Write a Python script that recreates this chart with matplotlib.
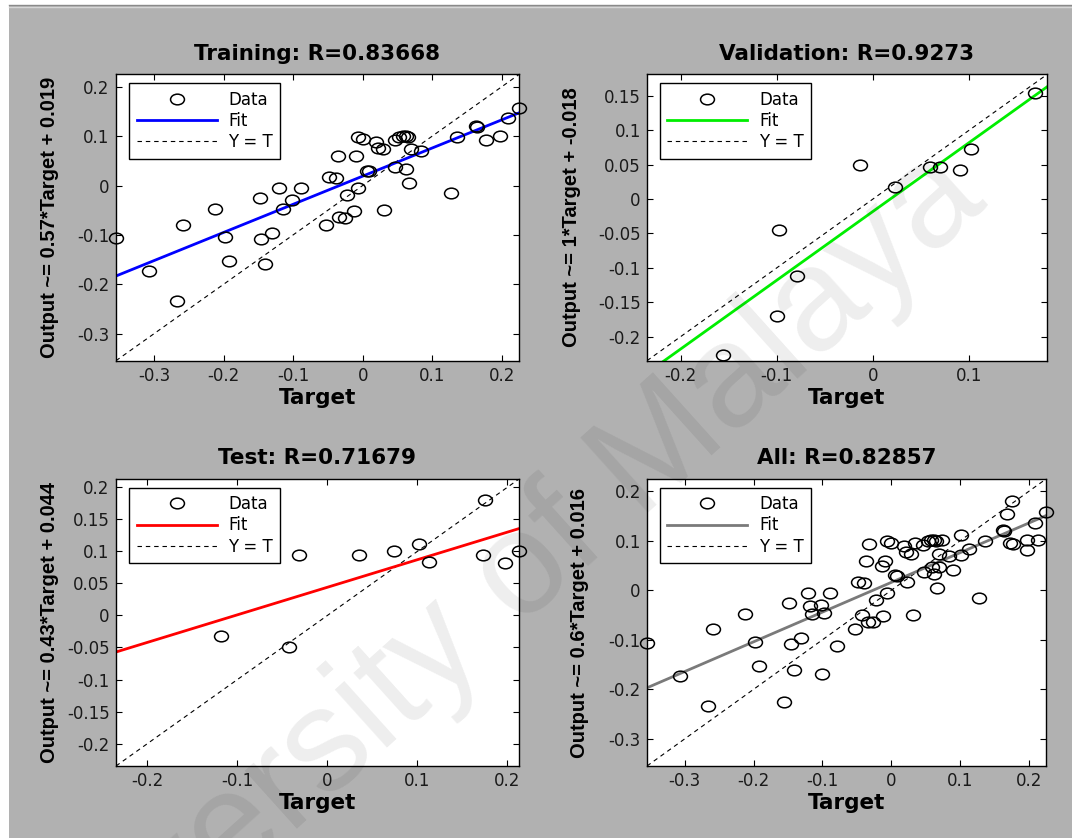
import matplotlib
matplotlib.use('Agg')
import matplotlib.pyplot as plt
from matplotlib.path import Path
from matplotlib.transforms import Affine2D
from matplotlib.patches import Rectangle
from matplotlib.lines import Line2D

# ================= data =================
train_t = [-0.355, -0.307, -0.267, -0.259, -0.213, -0.198, -0.192, -0.148, -0.146, -0.141,
           -0.131, -0.121, -0.115, -0.102, -0.089, -0.053, -0.048, -0.039, -0.036, -0.034,
           -0.026, -0.022, -0.012, -0.009, -0.006, -0.006, 0.000, 0.006, 0.009, 0.019,
           0.022, 0.029, 0.031, 0.046, 0.047, 0.053, 0.058, 0.062, 0.065, 0.062,
           0.066, 0.070, 0.084, 0.127, 0.136, 0.163, 0.164, 0.177, 0.197, 0.209, 0.225]
train_y = [-0.106, -0.173, -0.234, -0.079, -0.047, -0.104, -0.153, -0.025, -0.109, -0.160,
           -0.097, -0.005, -0.047, -0.029, -0.005, -0.079, 0.017, 0.015, 0.060, -0.064,
           -0.065, -0.020, -0.052, 0.060, -0.005, 0.099, 0.095, 0.030, 0.029, 0.089,
           0.077, 0.074, -0.049, 0.092, 0.038, 0.099, 0.101, 0.101, 0.099, 0.034,
           0.005, 0.074, 0.069, -0.015, 0.099, 0.121, 0.119, 0.093, 0.101, 0.136, 0.158]

val_t = [-0.156, -0.100, -0.098, -0.079, -0.013, 0.023, 0.059, 0.070, 0.090, 0.102, 0.168]
val_y = [-0.226, -0.170, -0.045, -0.112, 0.049, 0.017, 0.047, 0.047, 0.042, 0.072, 0.154]

test_t = [-0.118, -0.043, -0.032, 0.035, 0.074, 0.102, 0.113, 0.173, 0.175, 0.197, 0.213]
test_y = [-0.032, -0.049, 0.094, 0.095, 0.101, 0.111, 0.083, 0.095, 0.181, 0.082, 0.101]

all_t = train_t + val_t + test_t
all_y = train_y + val_y + test_y

# fit coefficients as printed in the y labels
fit_train = (0.57, 0.019)
fit_val = (1.0, -0.018)
fit_test = (0.43, 0.044)
fit_all = (0.6, 0.016)

titles = ['Training: R=0.83668', 'Validation: R=0.9273', 'Test: R=0.71679', 'All: R=0.82857']
ylabels = ['Output ~= 0.57*Target + 0.019', 'Output ~= 1*Target + -0.018',
           'Output ~= 0.43*Target + 0.044', 'Output ~= 0.6*Target + 0.016']

ticks_wide = [-0.3, -0.2, -0.1, 0, 0.1, 0.2]
labels_wide = ['-0.3', '-0.2', '-0.1', '0', '0.1', '0.2']
val_xticks = [-0.2, -0.1, 0, 0.1]
val_xlabels = ['-0.2', '-0.1', '0', '0.1']
val_yticks = [-0.2, -0.15, -0.1, -0.05, 0, 0.05, 0.1, 0.15]
val_ylabels = ['-0.2', '-0.15', '-0.1', '-0.05', '0', '0.05', '0.1', '0.15']
test_xticks = [-0.2, -0.1, 0, 0.1, 0.2]
test_xlabels = ['-0.2', '-0.1', '0', '0.1', '0.2']
test_yticks = [-0.2, -0.15, -0.1, -0.05, 0, 0.05, 0.1, 0.15, 0.2]
test_ylabels = ['-0.2', '-0.15', '-0.1', '-0.05', '0', '0.05', '0.1', '0.15', '0.2']

lim_train = (-0.355, 0.225)
lim_val = (-0.235, 0.181)
lim_test = (-0.235, 0.213)
lim_all = (-0.355, 0.225)

# ================= style =================
plt.rcParams['font.family'] = ['DejaVu Sans']
plt.rcParams['axes.unicode_minus'] = False

W, H = 1072, 838
BG = '#b1b1b1'

# slightly wide circle, like the stretched screenshot
ring = Path.unit_circle().transformed(Affine2D().scale(1.3, 1.0))


def pos(left, top, right, bottom):
    return [left / W, 1 - bottom / H, (right - left) / W, (bottom - top) / H]


def panel(ax, title, t, y, fit, lim, color, xt, xtl, yt, ytl, ylab, ylab_x):
    m, b = fit
    ax.set_facecolor('white')
    ax.plot(lim, lim, color='k', lw=0.8, ls=(0, (4, 3.5)), zorder=1)
    ax.plot(lim, [m * lim[0] + b, m * lim[1] + b], color=color, lw=2.0, zorder=2)
    ax.plot(t, y, ls='none', marker=ring, ms=10, mfc='none', mec='k', mew=1.1,
            zorder=3, clip_on=False)
    ax.set_xlim(lim)
    ax.set_ylim(lim)
    ax.set_xticks(xt)
    ax.set_xticklabels(xtl)
    ax.set_yticks(yt)
    ax.set_yticklabels(ytl)
    ax.tick_params(direction='in', length=4, width=0.8, top=True, right=True,
                   labelsize=12, labelcolor='#1a1a1a', pad=4.5)
    for s in ax.spines.values():
        s.set_linewidth(1.0)
    ax.set_title(title, fontsize=15.5, fontweight='bold', pad=10.8)
    ax.set_xlabel('Target', fontsize=15.5, fontweight='bold')
    ax.xaxis.set_label_coords(0.5, -0.094)
    ax.set_ylabel(ylab, fontsize=14.5, fontweight='bold',
                  family=['Liberation Sans', 'DejaVu Sans'])
    ax.yaxis.set_label_coords(ylab_x, 0.5)

    handles = [Line2D([], [], ls='none', marker=ring, ms=10, mfc='none', mec='k', mew=1.1),
               Line2D([], [], color=color, lw=2.0),
               Line2D([], [], color='k', lw=0.8, ls=(0, (4, 3.5)))]
    leg = ax.legend(handles, ['Data', 'Fit', 'Y = T'], loc='upper left',
                    bbox_to_anchor=(13 / 403, 1 - 8.5 / 286), borderaxespad=0,
                    fontsize=12, fancybox=False, framealpha=1, edgecolor='k',
                    handlelength=4.8, handletextpad=0.7, labelspacing=0.2,
                    borderpad=0.45, numpoints=1)
    leg.get_frame().set_linewidth(1.0)


fig = plt.figure(figsize=(W / 100, H / 100), dpi=100, facecolor='white')
fig.patches.append(Rectangle((9 / W, 0), 1, 1 - 6 / H, transform=fig.transFigure,
                             facecolor=BG, edgecolor='none', zorder=-10))
fig.add_artist(Line2D([9 / W, 1], [1 - 5.5 / H, 1 - 5.5 / H], color='#8a8a8a', lw=1.0))
fig.add_artist(Line2D([9 / W, 1], [1 - 7 / H, 1 - 7 / H], color='#d6d6d6', lw=1.0))

ax1 = fig.add_axes(pos(116, 74.5, 519, 360.7))
ax2 = fig.add_axes(pos(647, 74.5, 1047, 360.7))
ax3 = fig.add_axes(pos(116, 479, 519, 766))
ax4 = fig.add_axes(pos(647, 479, 1046, 766))

panel(ax1, titles[0], train_t, train_y, fit_train, lim_train, '#0000ff',
      ticks_wide, labels_wide, ticks_wide, labels_wide, ylabels[0], -0.141)
panel(ax2, titles[1], val_t, val_y, fit_val, lim_val, '#00ee00',
      val_xticks, val_xlabels, val_yticks, val_ylabels, ylabels[1], -0.165)
panel(ax3, titles[2], test_t, test_y, fit_test, lim_test, '#ff0000',
      test_xticks, test_xlabels, test_yticks, test_ylabels, ylabels[2], -0.141)
panel(ax4, titles[3], all_t, all_y, fit_all, lim_all, '#7a7a7a',
      ticks_wide, labels_wide, ticks_wide, labels_wide, ylabels[3], -0.145)

# faint watermark across the page
fig.text(990 / W, 1 - 205 / H, 'University of Malaya', family=['Liberation Sans', 'DejaVu Sans'],
         fontsize=105, color='k', alpha=0.07, rotation=42, rotation_mode='anchor',
         ha='right', va='baseline', zorder=20)

fig.savefig('out.png', dpi=100)
